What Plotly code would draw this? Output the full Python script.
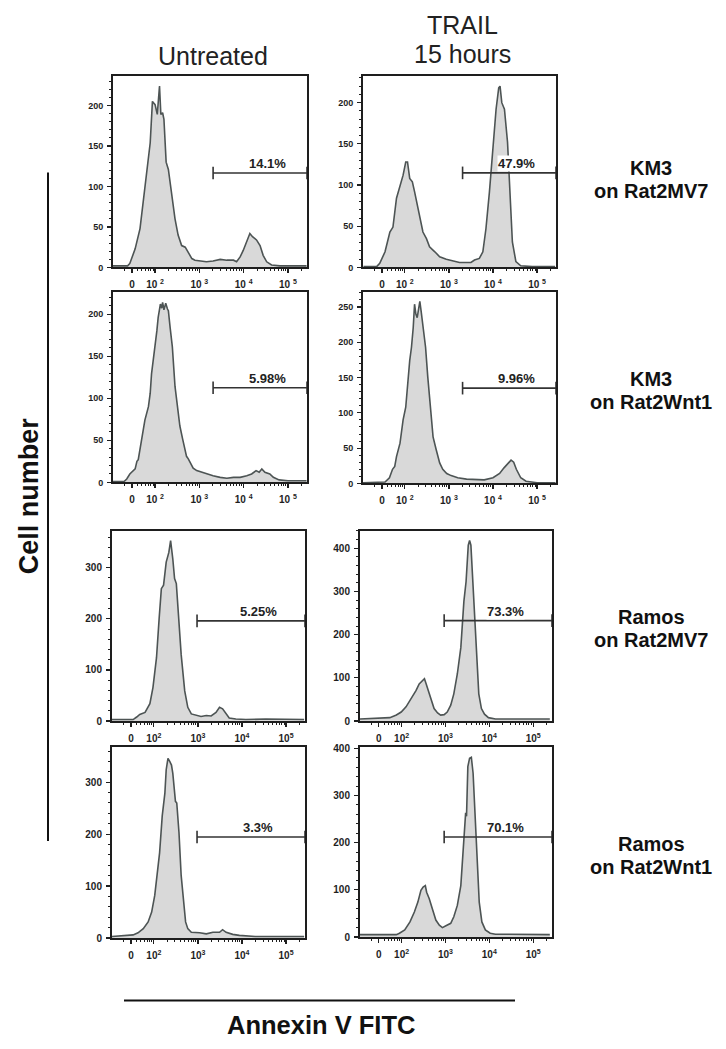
import math
import plotly.graph_objects as go

W, H = 726, 1049

# ---------------- data ----------------
# x: Annexin V FITC in display (biexponential) units: 2 -> 10^2, 3 -> 10^3 ...; y: cell number
x_km3_mv7_untr = [1.05, 1.38, 1.43, 1.55, 1.66, 1.73, 1.81, 1.89, 1.94, 2.00, 2.05, 2.10, 2.13, 2.17, 2.20,
                  2.25, 2.30, 2.37, 2.45, 2.52, 2.60, 2.68, 2.75, 2.83, 2.90, 3.01, 3.16, 3.31, 3.47, 3.62,
                  3.77, 3.84, 3.92, 3.99, 4.07, 4.14, 4.20, 4.29, 4.37, 4.44, 4.52, 4.63, 4.82, 5.42]
y_km3_mv7_untr = [2, 2, 5, 23, 48, 80, 121, 154, 205, 201, 189, 224, 189, 191, 183,
                  130, 121, 93, 60, 40, 27, 25, 19, 11, 9, 8, 7, 8, 10, 9,
                  9, 7, 13, 21, 31, 42, 38, 34, 27, 15, 7, 3, 2, 2]

x_km3_mv7_trail = [1.06, 1.36, 1.43, 1.55, 1.66, 1.73, 1.81, 1.89, 1.96, 2.02, 2.06, 2.11, 2.17, 2.22, 2.28,
                   2.34, 2.41, 2.49, 2.56, 2.68, 2.79, 2.94, 3.09, 3.24, 3.39, 3.50, 3.58, 3.69, 3.77, 3.84,
                   3.92, 3.99, 4.07, 4.13, 4.16, 4.20, 4.26, 4.33, 4.38, 4.44, 4.52, 4.63, 4.89, 5.41]
y_km3_mv7_trail = [1, 1, 5, 19, 43, 49, 84, 100, 112, 128, 128, 108, 104, 92, 76,
                   63, 43, 35, 25, 19, 13, 10, 8, 6, 6, 6, 9, 11, 19, 47,
                   92, 140, 192, 218, 220, 200, 192, 152, 100, 31, 7, 2, 1, 1]

x_km3_wnt1_untr = [1.05, 1.30, 1.36, 1.43, 1.55, 1.59, 1.62, 1.66, 1.70, 1.72, 1.77, 1.85, 1.89, 1.92, 1.98,
                   2.04, 2.07, 2.12, 2.15, 2.17, 2.20, 2.24, 2.28, 2.30, 2.34, 2.39, 2.45, 2.50, 2.56, 2.62,
                   2.68, 2.71, 2.75, 2.83, 2.86, 2.94, 3.05, 3.16, 3.31, 3.47, 3.62, 3.77, 3.92, 4.07,
                   4.18, 4.28, 4.35, 4.41, 4.48, 4.59, 4.67, 4.80, 5.00, 5.42]
y_km3_wnt1_untr = [1, 1, 4, 10, 16, 25, 27, 39, 51, 55, 74, 90, 106, 129, 153,
                   180, 196, 212, 207, 214, 205, 213, 206, 204, 184, 161, 114, 90, 67, 52,
                   39, 31, 28, 20, 17, 14, 12, 10, 8, 6, 5, 6, 6, 8,
                   10, 14, 12, 16, 12, 10, 6, 3, 2, 2]

x_km3_wnt1_trail = [1.05, 1.55, 1.65, 1.72, 1.77, 1.81, 1.89, 1.96, 2.02, 2.07, 2.11, 2.15, 2.19, 2.22, 2.25,
                    2.28, 2.31, 2.34, 2.37, 2.41, 2.47, 2.52, 2.58, 2.64, 2.71, 2.79, 2.86, 2.95, 3.05, 3.20,
                    3.40, 3.60, 3.80, 4.00, 4.15, 4.25, 4.33, 4.41, 4.47, 4.53, 4.63, 4.75, 5.00, 5.42]
y_km3_wnt1_trail = [1, 2, 8, 20, 24, 38, 57, 90, 108, 146, 174, 193, 221, 254, 240,
                    235, 250, 258, 244, 225, 193, 151, 108, 66, 48, 29, 20, 14, 11, 8,
                    6, 5, 5, 8, 14, 22, 28, 33, 30, 20, 8, 3, 1, 1]

x_ramos_mv7_untr = [1.05, 1.53, 1.61, 1.68, 1.80, 1.91, 1.98, 2.06, 2.12, 2.17, 2.22, 2.28, 2.34, 2.38, 2.43,
                    2.47, 2.51, 2.57, 2.62, 2.70, 2.77, 2.85, 2.96, 3.07, 3.19, 3.30, 3.41, 3.49, 3.56, 3.64,
                    3.71, 3.86, 4.09, 4.54, 5.41]
y_ramos_mv7_untr = [3, 3, 8, 13, 17, 34, 66, 124, 201, 259, 266, 311, 330, 353, 317,
                    279, 269, 201, 130, 59, 27, 14, 11, 9, 11, 10, 17, 27, 24, 13,
                    6, 4, 3, 4, 3]

x_ramos_mv7_trail = [1.05, 1.73, 1.88, 1.99, 2.10, 2.19, 2.25, 2.33, 2.40, 2.48, 2.52, 2.56, 2.61, 2.67, 2.74,
                     2.82, 2.89, 2.97, 3.04, 3.12, 3.19, 3.27, 3.35, 3.42, 3.47, 3.52, 3.55, 3.58, 3.62, 3.66,
                     3.71, 3.76, 3.82, 3.89, 3.98, 4.14, 5.38]
y_ramos_mv7_trail = [5, 8, 14, 21, 33, 47, 56, 71, 86, 94, 98, 86, 71, 48, 29,
                     19, 14, 15, 21, 37, 63, 109, 170, 277, 323, 407, 418, 407, 330, 269,
                     162, 63, 29, 16, 8, 5, 5]

x_ramos_wnt1_untr = [1.05, 1.53, 1.64, 1.76, 1.87, 1.95, 2.02, 2.07, 2.13, 2.19, 2.25, 2.28, 2.32, 2.36, 2.40,
                     2.43, 2.47, 2.49, 2.52, 2.57, 2.62, 2.68, 2.72, 2.77, 2.85, 3.04, 3.19, 3.34, 3.49, 3.56,
                     3.64, 3.79, 3.94, 4.30, 5.41]
y_ramos_wnt1_untr = [3, 6, 10, 18, 31, 50, 82, 120, 164, 235, 279, 324, 346, 340, 333,
                     317, 273, 263, 260, 203, 120, 69, 31, 18, 11, 10, 8, 11, 11, 16,
                     11, 7, 5, 3, 3]

x_ramos_wnt1_trail = [1.05, 1.88, 1.95, 2.07, 2.19, 2.29, 2.37, 2.44, 2.49, 2.54, 2.57, 2.63, 2.70, 2.78, 2.86,
                      2.93, 3.01, 3.12, 3.19, 3.27, 3.35, 3.42, 3.46, 3.48, 3.51, 3.55, 3.59, 3.63, 3.68, 3.73,
                      3.77, 3.83, 3.91, 4.02, 4.14, 5.38]
y_ramos_wnt1_trail = [5, 5, 8, 15, 32, 53, 74, 99, 106, 109, 95, 81, 60, 36, 25,
                      20, 24, 29, 43, 67, 109, 214, 263, 256, 361, 379, 381, 347, 249, 144,
                      74, 32, 15, 8, 6, 5]

gate_start = [3.31, 3.31, 3.31, 3.31, 2.98, 2.97, 2.98, 2.97]
gate_level = [116.6, 114.8, 112.5, 135.0, 196.0, 232.5, 194.5, 212.0]
gate_pct = ["14.1%", "47.9%", "5.98%", "9.96%", "5.25%", "73.3%", "3.3%", "70.1%"]

y_top = [236, 232, 226, 271, 372, 440, 368, 403]
y_step = [50, 50, 50, 50, 100, 100, 100, 100]
y_minor = [10, 10, 10, 10, 20, 20, 20, 20]

x_tickvals = [1.48, 2, 3, 4, 5]
x_ticktext_a = ["0", "10 <sup>2</sup>", "10 <sup>3</sup>", "10 <sup>4</sup>", "10 <sup>5</sup>"]
x_ticktext_b = ["0", "10<sup>2</sup>", "10<sup>3</sup>", "10<sup>4</sup>", "10<sup>5</sup>"]
x_range = [1.05, 5.43]

col_titles = [("Untreated",), ("TRAIL", "15 hours")]
row_labels = [("KM3", "on Rat2MV7"), ("KM3", "on Rat2Wnt1"),
              ("Ramos", "on Rat2MV7"), ("Ramos", "on Rat2Wnt1")]

series = [
    (x_km3_mv7_untr, y_km3_mv7_untr), (x_km3_mv7_trail, y_km3_mv7_trail),
    (x_km3_wnt1_untr, y_km3_wnt1_untr), (x_km3_wnt1_trail, y_km3_wnt1_trail),
    (x_ramos_mv7_untr, y_ramos_mv7_untr), (x_ramos_mv7_trail, y_ramos_mv7_trail),
    (x_ramos_wnt1_untr, y_ramos_wnt1_untr), (x_ramos_wnt1_trail, y_ramos_wnt1_trail),
]

# ---------------- layout geometry (pixels) ----------------
boxes = [  # left, right, top, bottom
    (113, 307, 73, 266), (363, 556, 73, 266),
    (113, 307, 291, 483), (363, 556, 291, 484),
    (112, 305, 532, 724), (360, 552, 532, 724),
    (112, 305, 750, 943), (360, 552, 750, 942),
]

FONT = "Arial, Liberation Sans, Helvetica, sans-serif"
DARK = "#1e1e1e"

minor_x = [math.log10(k * 10 ** n) for n in (1, 2, 3, 4, 5) for k in range(2, 10)]
minor_x = [v for v in minor_x if x_range[0] < v < x_range[1] and abs(v - 1.48) > 0.03]

fig = go.Figure()
layout = dict(
    width=W, height=H, margin=dict(l=0, r=0, t=0, b=0),
    paper_bgcolor="white", plot_bgcolor="white", showlegend=False,
    font=dict(family=FONT, color=DARK),
)
annotations = []
shapes = []

for i, ((xs, ys), (l, r, t, b)) in enumerate(zip(series, boxes)):
    n = i + 1
    xa = "x" if n == 1 else f"x{n}"
    ya = "y" if n == 1 else f"y{n}"
    upper_rows = i < 4
    fig.add_trace(go.Scatter(
        x=xs, y=ys, xaxis=xa, yaxis=ya, mode="lines", fill="tozeroy",
        fillcolor="#d9d9d9", line=dict(color="#4d5454", width=1.6), hoverinfo="skip"))
    fig.add_trace(go.Scatter(
        x=[gate_start[i], x_range[1]], y=[gate_level[i], gate_level[i]], xaxis=xa, yaxis=ya,
        mode="lines+markers", cliponaxis=False,
        line=dict(color="#333", width=1.6),
        marker=dict(symbol="line-ns", size=9, line=dict(color="#333", width=1.6)),
        hoverinfo="skip"))
    xmid = (gate_start[i] + x_range[1]) / 2
    annotations.append(dict(
        x=xmid, y=gate_level[i], xref=xa, yref=ya, text=f"<b>{gate_pct[i]}</b>",
        showarrow=False, xanchor="center", yanchor="bottom", xshift=7, yshift=1,
        bgcolor="white", borderpad=0,
        font=dict(size=13, family=FONT, color="#222")))
    tick_font = dict(size=9 if upper_rows else 10, family=FONT, color=DARK, weight="bold")
    xtick_font = dict(size=10, family=FONT, color=DARK, weight="bold")
    xkey = "xaxis" if n == 1 else f"xaxis{n}"
    ykey = "yaxis" if n == 1 else f"yaxis{n}"
    layout[xkey] = dict(
        domain=[l / W, r / W], anchor=ya, range=x_range, showgrid=False, zeroline=False,
        showline=True, linecolor=DARK, linewidth=2, mirror=True,
        tickmode="array", tickvals=x_tickvals,
        ticktext=x_ticktext_a if upper_rows else x_ticktext_b,
        ticks="outside", ticklen=4, tickwidth=1.2, tickcolor=DARK,
        tickfont=xtick_font, ticklabelstandoff=3,
        minor=dict(tickvals=minor_x, ticks="outside", ticklen=2, tickwidth=1, tickcolor=DARK),
        fixedrange=True)
    layout[ykey] = dict(
        domain=[1 - b / H, 1 - t / H], anchor=xa, range=[0, y_top[i]], showgrid=False,
        zeroline=False, showline=True, linecolor=DARK, linewidth=2, mirror=True,
        tickmode="linear", tick0=0, dtick=y_step[i],
        ticks="outside", ticklen=4, tickwidth=1.2, tickcolor=DARK,
        tickfont=tick_font, ticklabelstandoff=2,
        minor=dict(dtick=y_minor[i], ticks="outside", ticklen=2, tickwidth=1, tickcolor=DARK),
        fixedrange=True)

# column titles (one annotation per line)
title_pos = [[(213, 53)], [(462, 21), (462, 50)]]
for lines, poss in zip(col_titles, title_pos):
    for txt, (px, py) in zip(lines, poss):
        annotations.append(dict(x=px / W, y=1 - py / H, xref="paper", yref="paper", text=txt,
                                showarrow=False, xanchor="center", yanchor="middle",
                                font=dict(size=25, family=FONT, color="#222")))

# row labels
row_y = [(166, 189), (379, 402), (619, 642), (848, 871)]
for (l1, l2), (y1, y2) in zip(row_labels, row_y):
    for txt, yy in ((l1, y1), (l2, y2)):
        annotations.append(dict(x=651 / W, y=1 - yy / H, xref="paper", yref="paper",
                                text=f"<b>{txt}</b>", showarrow=False, xanchor="center",
                                yanchor="middle", font=dict(size=20, family=FONT, color="#111")))

# axis group labels
annotations.append(dict(x=29 / W, y=1 - 497 / H, xref="paper", yref="paper", text="<b>Cell number</b>",
                        showarrow=False, textangle=-90, xanchor="center", yanchor="middle",
                        font=dict(size=27, family=FONT, color="#111")))
annotations.append(dict(x=321 / W, y=1 - 1031 / H, xref="paper", yref="paper", text="<b>Annexin V FITC</b>",
                        showarrow=False, xanchor="center", yanchor="middle",
                        font=dict(size=25.5, family=FONT, color="#111")))
shapes.append(dict(type="line", xref="paper", yref="paper", x0=48 / W, x1=48 / W,
                   y0=1 - 170 / H, y1=1 - 845 / H, line=dict(color="#111", width=2)))
shapes.append(dict(type="line", xref="paper", yref="paper", x0=124 / W, x1=515 / W,
                   y0=1 - 1006 / H, y1=1 - 1006 / H, line=dict(color="#111", width=2)))

layout["annotations"] = annotations
layout["shapes"] = shapes
fig.update_layout(**layout)
fig.write_html("out.html", config={"displayModeBar": False, "staticPlot": True},
               post_script="document.body.style.margin='0';"
                           "document.documentElement.style.overflow='hidden';")
